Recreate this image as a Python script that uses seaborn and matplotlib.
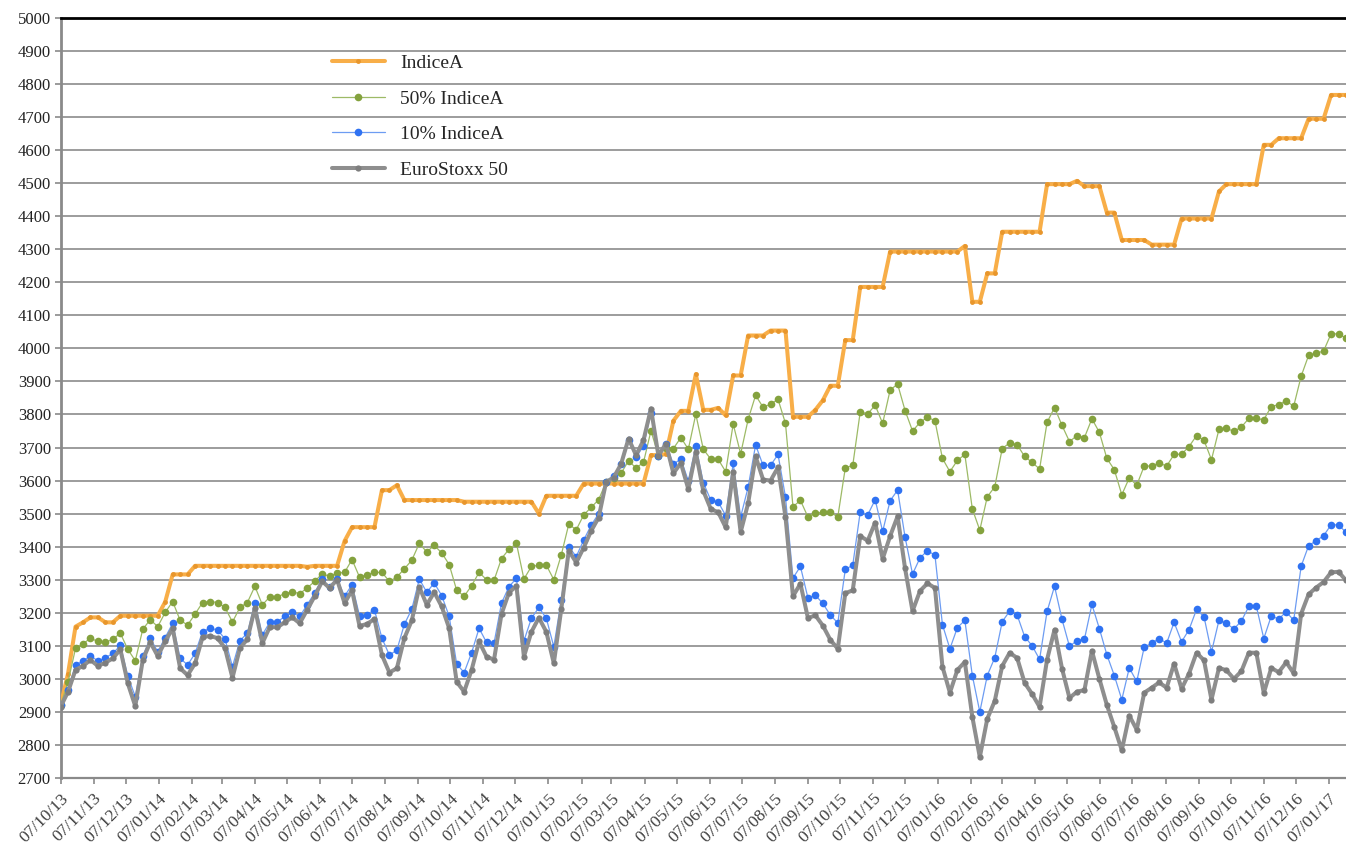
import matplotlib
matplotlib.use("Agg")
import matplotlib.pyplot as plt
import seaborn as sns
import pandas as pd

# dati settimanali
start_date = "2013-10-07"
n_weeks = 173

indice_a = [
    2920, 3016, 3158, 3171, 3186, 3186, 3171, 3171, 3191, 3191,
    3191, 3191, 3191, 3191, 3233, 3316, 3316, 3316, 3342, 3342,
    3342, 3342, 3342, 3342, 3342, 3342, 3342, 3342, 3342, 3342,
    3342, 3342, 3342, 3339, 3342, 3342, 3342, 3342, 3417, 3459,
    3459, 3459, 3459, 3571, 3571, 3586, 3541, 3541, 3541, 3541,
    3541, 3541, 3541, 3541, 3536, 3536, 3536, 3536, 3536, 3536,
    3536, 3536, 3536, 3536, 3500, 3554, 3554, 3554, 3554, 3554,
    3591, 3591, 3591, 3591, 3591, 3591, 3591, 3591, 3591, 3677,
    3677, 3680, 3781, 3811, 3811, 3922, 3814, 3814, 3820, 3797,
    3918, 3918, 4039, 4039, 4039, 4054, 4054, 4054, 3793, 3793,
    3793, 3814, 3843, 3887, 3887, 4025, 4025, 4186, 4186, 4186,
    4186, 4293, 4293, 4293, 4293, 4293, 4293, 4293, 4293, 4293,
    4293, 4310, 4141, 4141, 4227, 4227, 4353, 4353, 4353, 4353,
    4353, 4353, 4497, 4497, 4497, 4497, 4507, 4491, 4491, 4491,
    4411, 4411, 4328, 4328, 4328, 4328, 4314, 4314, 4314, 4314,
    4393, 4393, 4393, 4393, 4393, 4475, 4497, 4497, 4497, 4497,
    4497, 4616, 4616, 4636, 4636, 4636, 4636, 4695, 4695, 4695,
    4767, 4767, 4767,
]

indice_50 = [
    2920, 2991, 3092, 3106, 3123, 3113, 3110, 3120, 3138, 3089,
    3055, 3150, 3179, 3158, 3201, 3234, 3177, 3163, 3196, 3231,
    3234, 3231, 3216, 3172, 3216, 3231, 3280, 3224, 3248, 3248,
    3258, 3263, 3258, 3275, 3295, 3318, 3310, 3320, 3322, 3361,
    3308, 3315, 3322, 3322, 3295, 3308, 3333, 3359, 3410, 3384,
    3404, 3381, 3346, 3268, 3250, 3282, 3322, 3300, 3298, 3364,
    3392, 3410, 3302, 3340, 3344, 3344, 3300, 3375, 3468, 3451,
    3496, 3519, 3542, 3596, 3609, 3622, 3660, 3638, 3655, 3751,
    3675, 3700, 3697, 3730, 3695, 3801, 3695, 3665, 3664, 3627,
    3771, 3681, 3785, 3858, 3822, 3831, 3846, 3773, 3521, 3540,
    3490, 3502, 3504, 3504, 3490, 3638, 3646, 3808, 3802, 3828,
    3773, 3874, 3892, 3812, 3750, 3776, 3792, 3781, 3667, 3627,
    3661, 3679, 3514, 3450, 3551, 3581, 3697, 3714, 3708, 3673,
    3655, 3635, 3776, 3821, 3767, 3718, 3736, 3730, 3787, 3746,
    3667, 3633, 3557, 3608, 3586, 3644, 3644, 3653, 3644, 3679,
    3680, 3703, 3736, 3722, 3663, 3755, 3758, 3749, 3762, 3788,
    3788, 3784, 3824, 3830, 3841, 3825, 3916, 3979, 3985, 3992,
    4044, 4044, 4031,
]

indice_10 = [
    2920, 2966, 3042, 3054, 3070, 3054, 3064, 3077, 3101, 3008,
    2946, 3069, 3123, 3082, 3125, 3168, 3062, 3042, 3077, 3143,
    3153, 3148, 3121, 3037, 3116, 3138, 3231, 3133, 3172, 3172,
    3189, 3201, 3189, 3224, 3260, 3302, 3278, 3302, 3250, 3285,
    3191, 3194, 3209, 3123, 3072, 3087, 3165, 3211, 3302, 3262,
    3290, 3252, 3189, 3045, 3019, 3079, 3153, 3110, 3108, 3229,
    3279, 3304, 3115, 3183, 3216, 3183, 3097, 3239, 3400, 3370,
    3420, 3465, 3500, 3596, 3614, 3650, 3723, 3670, 3705, 3806,
    3675, 3710, 3650, 3665, 3599, 3705, 3594, 3541, 3535, 3494,
    3652, 3490, 3580, 3708, 3646, 3646, 3679, 3550, 3305, 3340,
    3245, 3253, 3228, 3193, 3169, 3331, 3344, 3505, 3496, 3542,
    3446, 3539, 3571, 3429, 3317, 3366, 3388, 3374, 3164, 3091,
    3155, 3177, 3010, 2900, 3010, 3064, 3173, 3205, 3193, 3128,
    3100, 3059, 3204, 3280, 3180, 3098, 3116, 3120, 3225, 3152,
    3073, 3010, 2937, 3033, 2992, 3096, 3108, 3122, 3108, 3171,
    3112, 3149, 3210, 3188, 3081, 3177, 3168, 3151, 3175, 3219,
    3220, 3122, 3190, 3181, 3203, 3177, 3341, 3403, 3418, 3433,
    3466, 3466, 3443,
]

eurostoxx = [
    2915, 2961, 3027, 3039, 3057, 3039, 3049, 3062, 3089, 2986,
    2917, 3057, 3111, 3069, 3113, 3153, 3032, 3011, 3047, 3126,
    3130, 3123, 3093, 3003, 3093, 3120, 3214, 3108, 3157, 3156,
    3171, 3186, 3168, 3209, 3250, 3295, 3275, 3300, 3229, 3268,
    3160, 3166, 3181, 3072, 3019, 3032, 3123, 3177, 3278, 3224,
    3262, 3219, 3153, 2991, 2961, 3027, 3113, 3067, 3058, 3196,
    3261, 3281, 3067, 3142, 3185, 3142, 3047, 3211, 3388, 3352,
    3397, 3448, 3488, 3596, 3609, 3650, 3727, 3677, 3722, 3818,
    3675, 3712, 3622, 3653, 3574, 3685, 3569, 3514, 3504, 3458,
    3627, 3444, 3531, 3673, 3603, 3600, 3640, 3490, 3250, 3288,
    3184, 3192, 3161, 3118, 3091, 3259, 3268, 3432, 3418, 3473,
    3363, 3432, 3492, 3334, 3205, 3266, 3289, 3275, 3037, 2958,
    3027, 3051, 2885, 2763, 2879, 2933, 3039, 3079, 3063, 2988,
    2954, 2915, 3058, 3149, 3031, 2942, 2961, 2966, 3085, 3000,
    2921, 2854, 2784, 2889, 2846, 2958, 2973, 2989, 2973, 3046,
    2970, 3016, 3079, 3056, 2937, 3033, 3026, 3000, 3023, 3079,
    3079, 2957, 3033, 3020, 3050, 3017, 3197, 3256, 3276, 3293,
    3322, 3324, 3298,
]

series_names = ["IndiceA", "50% IndiceA", "10% IndiceA", "EuroStoxx 50"]
y_ticks = list(range(2700, 5001, 100))

dates = pd.date_range(start_date, periods=n_weeks, freq="7D")
tick_dates = pd.date_range("2013-10-01", "2017-01-01", freq="MS") + pd.Timedelta(days=6)
tick_labels = [d.strftime("%d/%m/%y") for d in tick_dates]

sns.set_theme(style="white")
plt.rcParams["font.family"] = ["Liberation Serif", "DejaVu Serif"]

fig = plt.figure(figsize=(13.46, 8.47), dpi=100)
ax = fig.add_axes([0.045, 0.0815, 0.955, 0.8973])

styles = [
    dict(color="#F8AE48", lw=2.9, markersize=3.5, mfc="#E8962C"),
    dict(color="#9DBA66", lw=0.9, markersize=5.5, mfc="#84A23E"),
    dict(color="#6D9CF2", lw=0.9, markersize=5.5, mfc="#2F72F2"),
    dict(color="#8E8E8E", lw=2.9, markersize=4.5, mfc="#7E7E7E"),
]
for vals, name, st in zip([indice_a, indice_50, indice_10, eurostoxx], series_names, styles):
    sns.lineplot(x=dates, y=vals, ax=ax, color=st["color"], linewidth=st["lw"],
                 marker="o", markersize=st["markersize"], markerfacecolor=st["mfc"],
                 markeredgewidth=0, label=name, zorder=3)

ax.set_xlim(dates[0], dates[-1])
ax.set_ylim(2700, 5000)
ax.set_yticks(y_ticks)
ax.set_xticks(tick_dates)
ax.set_xticklabels(tick_labels, rotation=45, ha="right", rotation_mode="anchor",
                   fontsize=12.5, color="#404040")
ax.set_xlabel("")
ax.set_ylabel("")

ax.yaxis.grid(True, color="#9c9c9c", linewidth=1.4, zorder=0)
ax.xaxis.grid(False)
ax.set_axisbelow(True)

ax.spines["top"].set_color("black")
ax.spines["top"].set_linewidth(2)
ax.spines["right"].set_visible(False)
ax.spines["left"].set_color("#8a8a8a")
ax.spines["left"].set_linewidth(2)
ax.spines["bottom"].set_color("#8a8a8a")
ax.spines["bottom"].set_linewidth(1.6)

ax.tick_params(axis="y", direction="out", length=4, width=1.2, color="#8a8a8a",
               labelsize=12, labelcolor="#222222", pad=3, left=True)
ax.tick_params(axis="x", direction="out", length=4, width=1.2, color="#8a8a8a",
               pad=5, bottom=True)

ax.legend(loc="upper left", bbox_to_anchor=(0.2467, 0.936), bbox_transform=fig.transFigure,
          frameon=False, fontsize=14, handlelength=2.7, handletextpad=0.8,
          labelspacing=0.93, borderpad=0, borderaxespad=0)

fig.savefig("out.png", dpi=100)
